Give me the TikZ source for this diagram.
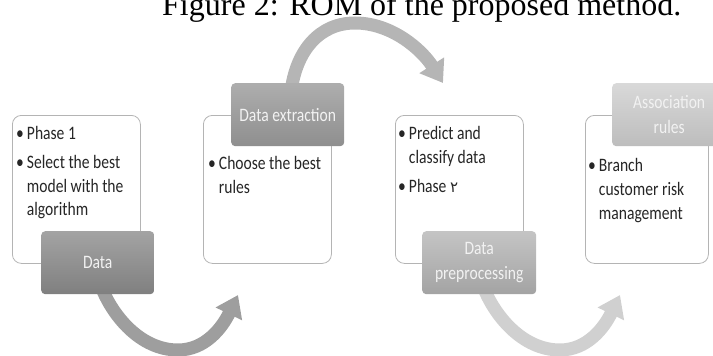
\documentclass[tikz,border=0pt]{standalone}
\usepackage{fontspec}
\setmainfont{Liberation Serif}
\newfontfamily\calfont[FakeStretch=0.82]{Carlito}
\newfontfamily\arabicfont[Script=Arabic]{DejaVu Sans}
\usetikzlibrary{arrows.meta}
\definecolor{cardborder}{HTML}{B4B4B4}
\definecolor{cardtext}{HTML}{262626}
\definecolor{tagtext}{HTML}{F2F2F2}
\definecolor{arrowA}{HTML}{9E9E9E}
\definecolor{arrowB}{HTML}{B5B5B5}
\definecolor{arrowC}{HTML}{D0D0D0}
\begin{document}
\begin{tikzpicture}[x=1pt,y=-1pt,
  card/.style={draw=cardborder, fill=white, rounded corners=9pt, line width=0.8pt,
    minimum width=128pt, minimum height=148pt, anchor=north west, inner sep=0pt},
  tag/.style={rounded corners=4pt, text=tagtext, align=center, inner sep=0pt,
    font=\calfont\fontsize{19}{25}\selectfont,
    minimum width=113pt, minimum height=63pt, anchor=north west},
  bigarrow/.style={line width=13pt, -{Triangle[width=28pt,length=21pt]}},
  bul/.style={anchor=base west, inner sep=0pt, text=cardtext,
    font=\calfont\fontsize{19}{24}\selectfont}]
\useasboundingbox (0,0) rectangle (713,356);
\clip (0,0) rectangle (713,356);

% title
\node[anchor=base west, inner sep=0pt, font=\fontsize{32}{36}\selectfont] (title) at (162,16) {Figure 2: ROM of the proposed method.};

% connector end points
\coordinate (a1s) at (101,286);
\coordinate (a1m) at (178,350);
\coordinate (a1e) at (238,295);
\coordinate (a2s) at (291,92);
\coordinate (a2m) at (355,23);
\coordinate (a2e) at (443,83);
\coordinate (a3s) at (483,286);
\coordinate (a3m) at (560,350);
\coordinate (a3e) at (620,295);

% curved arrows
\draw[bigarrow, draw=arrowA] (a1s) .. controls (112,315) and (140,350) .. (a1m)
   .. controls (205,350) and (222,328) .. (a1e);
\draw[bigarrow, draw=arrowB] (a2s) .. controls (296,50) and (320,23) .. (a2m)
   .. controls (392,23) and (422,50) .. (a2e);
\draw[bigarrow, draw=arrowC] (a3s) .. controls (494,315) and (522,350) .. (a3m)
   .. controls (587,350) and (604,328) .. (a3e);

% white cards
\node[card] (c1) at (12,115) {};
\node[card] (c2) at (203,115) {};
\node[card] (c3) at (395,115) {};
\node[card, minimum width=123pt] (c4) at (585,115) {};

% card texts
\node[bul] (t1) at (16,139) {\begin{tabular}[t]{@{}l@{\hspace{3pt}}l@{}}\textbullet & Phase 1\\[5pt]
  \textbullet & Select the best\\ & model with the\\ & algorithm\end{tabular}};
\node[bul] (t2) at (208,169) {\begin{tabular}[t]{@{}l@{\hspace{3pt}}l@{}}\textbullet & Choose the best\\ & rules\end{tabular}};
\node[bul] (t3) at (398,139) {\begin{tabular}[t]{@{}l@{\hspace{3pt}}l@{}}\textbullet & Predict and\\ & classify data\\[5pt]
  \textbullet & Phase {\arabicfont\fontsize{15}{24}\selectfont ۲}\end{tabular}};
\node[bul] (t4) at (588,171) {\begin{tabular}[t]{@{}l@{\hspace{3pt}}l@{}}\textbullet & Branch\\ & customer risk\\ & management\end{tabular}};

% gray tags
\node[tag, top color=black!36, bottom color=black!50] (data) at (41,231) {Data};
\node[tag, top color=black!32, bottom color=black!44] (extr) at (231,83) {Data extraction};
\node[tag, top color=black!23, bottom color=black!36, minimum width=114pt] (prep) at (422,231) {Data\\preprocessing};
\node[tag, top color=black!15, bottom color=black!26, minimum width=114pt] (assoc) at (612,83) {Association\\rules};
\end{tikzpicture}
\end{document}
